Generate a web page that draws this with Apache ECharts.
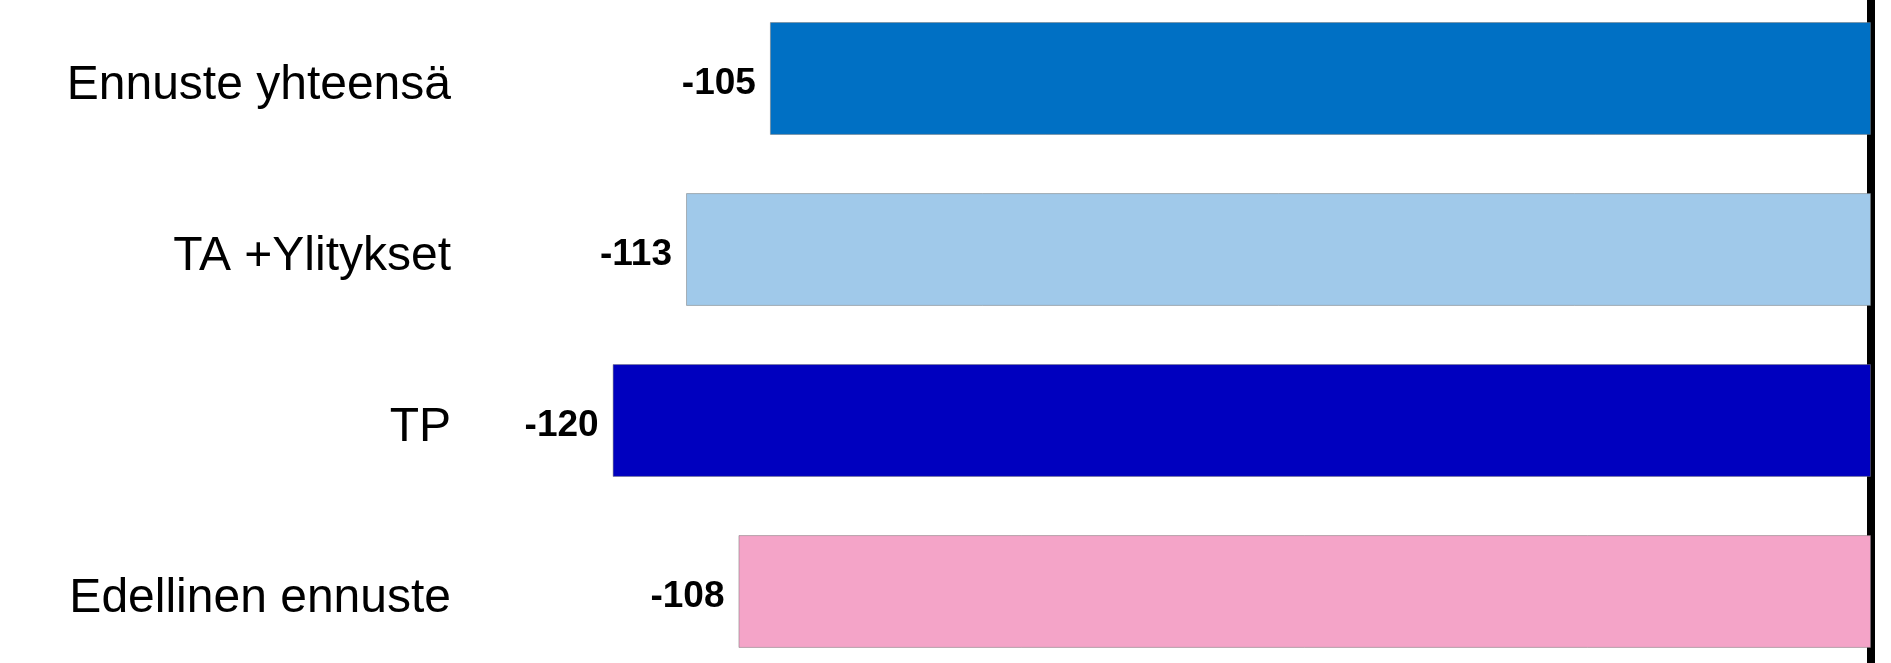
<!DOCTYPE html>
<html>
<head>
<meta charset="utf-8">
<script src="https://cdn.jsdelivr.net/npm/echarts@6/dist/echarts.min.js"></script>
<style>
  html, body { margin: 0; padding: 0; background: #fff; }
  #main { width: 1891px; height: 663px; }
</style>
</head>
<body>
<div id="main"></div>
<script>
// categories from top to bottom
var categories = ['Ennuste yhteensä', 'TA +Ylitykset', 'TP', 'Edellinen ennuste'];
var values = [-105, -113, -120, -108];
var barColors = ['#0070C4', '#A0C9EA', '#0000BF', '#F4A4C8'];

var chart = echarts.init(document.getElementById('main'));

var option = {
    backgroundColor: '#fff',
    animation: false,
    grid: {
        left: 470,
        right: 20,
        top: -7,
        height: 684,
        outerBoundsMode: 'none'
    },
    xAxis: {
        type: 'value',
        min: -133.6,
        max: 0,
        show: false
    },
    yAxis: [
        {
            type: 'category',
            data: categories,
            inverse: true,
            position: 'left',
            axisLine: { show: false },
            axisTick: { show: false },
            axisLabel: {
                margin: 19,
                formatter: function (v) { return '{t|' + v + '}'; },
                rich: {
                    t: {
                        color: '#000',
                        fontFamily: 'Liberation Sans, Arial, sans-serif',
                        fontSize: 48,
                        padding: [14, 0, 0, 0]
                    }
                }
            }
        },
        {
            // the zero line on the right
            type: 'category',
            data: categories,
            inverse: true,
            position: 'right',
            axisLine: { show: true, lineStyle: { color: '#000', width: 8 } },
            axisTick: { show: false },
            axisLabel: { show: false }
        }
    ],
    series: [
        {
            type: 'bar',
            barCategoryGap: '34%',
            data: values.map(function (v, i) {
                return { value: v, itemStyle: { color: barColors[i] } };
            }),
            itemStyle: {
                borderColor: 'rgba(120,120,120,0.5)',
                borderWidth: 1
            },
            label: {
                show: true,
                position: 'left',
                distance: 14,
                offset: [0, 5],
                color: '#000',
                fontWeight: 'bold',
                fontFamily: 'Liberation Sans, Arial, sans-serif',
                fontSize: 37
            }
        }
    ]
};

chart.setOption(option);
</script>
</body>
</html>
